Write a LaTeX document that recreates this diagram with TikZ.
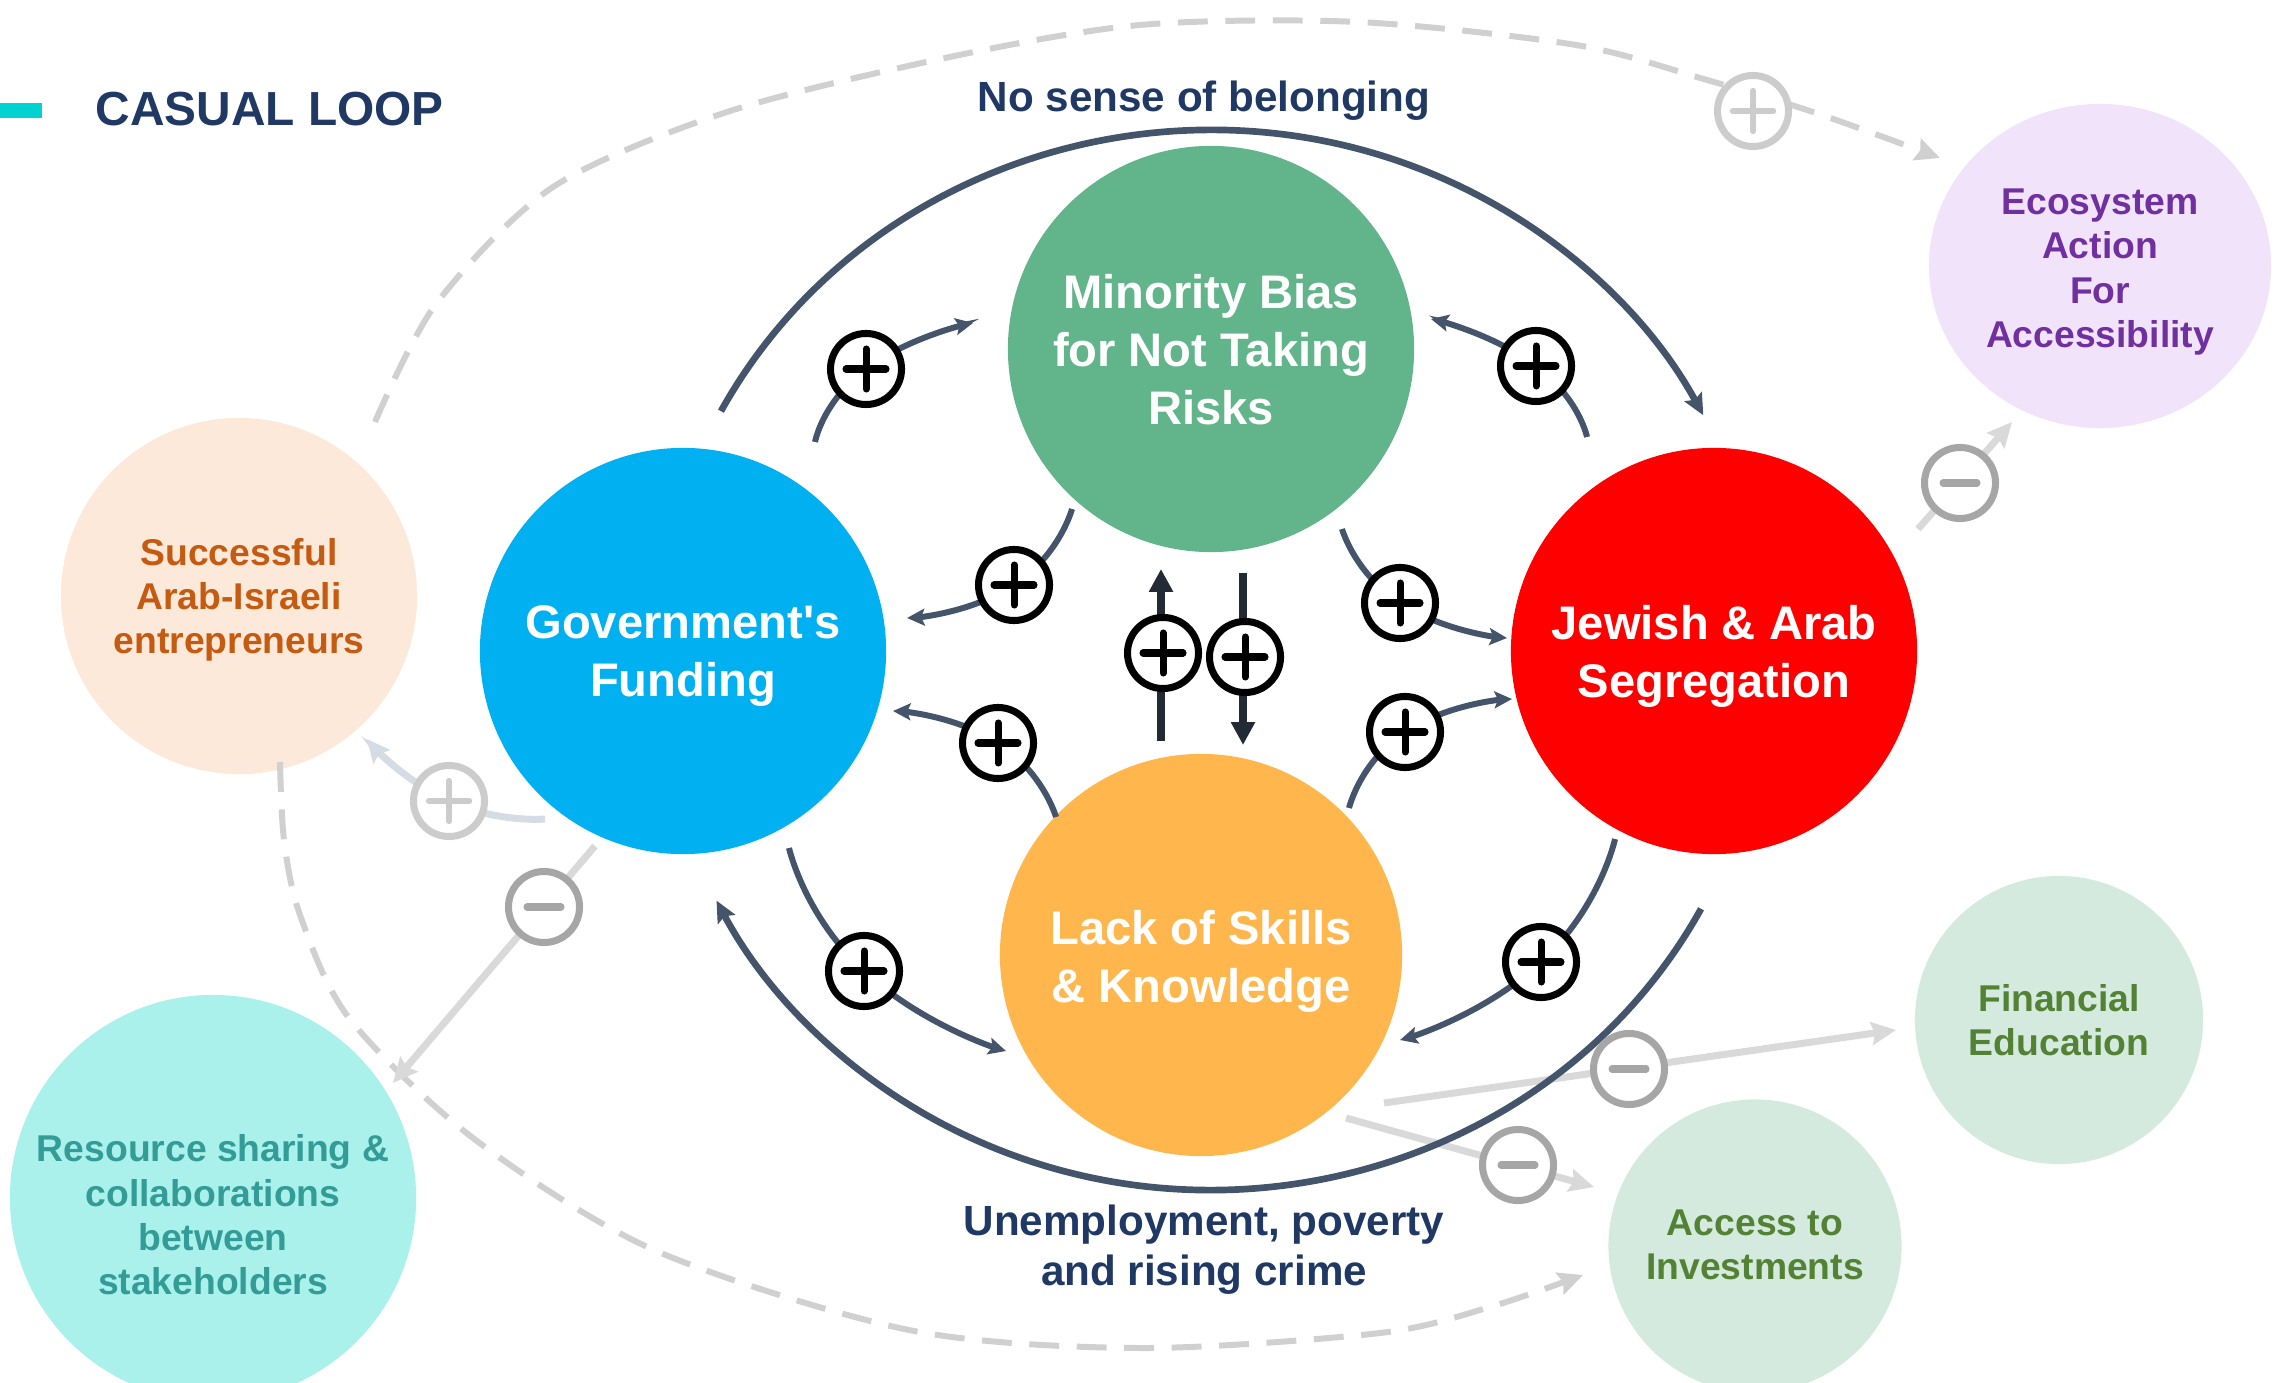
\documentclass[tikz,border=0pt]{standalone}
\usepackage{fontspec}
\setmainfont{Liberation Sans}
\usetikzlibrary{arrows.meta,shapes.geometric}
\definecolor{cgreen}{HTML}{62B48A}
\definecolor{cblue}{HTML}{00B0F0}
\definecolor{cred}{HTML}{FF0000}
\definecolor{corange}{HTML}{FFB74D}
\definecolor{cpeach}{HTML}{FCE9DA}
\definecolor{ccyan}{HTML}{AAF0EB}
\definecolor{clav}{HTML}{F1E3FA}
\definecolor{cmint}{HTML}{D4EADE}
\definecolor{tbrown}{HTML}{C55A11}
\definecolor{tteal}{HTML}{339C97}
\definecolor{tpurple}{HTML}{7030A0}
\definecolor{tgreen}{HTML}{548235}
\definecolor{navy}{HTML}{1F3864}
\definecolor{slate}{HTML}{44546A}
\definecolor{vdark}{HTML}{222A35}
\definecolor{lgray}{HTML}{D9D9D9}
\definecolor{bgray}{HTML}{D6DCE4}
\definecolor{dashgray}{HTML}{D0D0D0}
\definecolor{mgray}{HTML}{A6A6A6}
\definecolor{pgray}{HTML}{CCCCCC}
\definecolor{turq}{HTML}{00D2D2}
\begin{document}
\begin{tikzpicture}[x=0.01cm,y=-0.01cm,
  mainc/.style={circle, inner sep=0pt, minimum size=4.06cm},
  ctext/.style={inner sep=0pt, text=white, align=center, font=\bfseries\fontsize{13.4}{16.5}\selectfont},
  outc/.style={circle, inner sep=0pt},
  otext/.style={inner sep=0pt, align=center, font=\bfseries\fontsize{10.6}{12.6}\selectfont},
  lbl/.style={text=navy, align=center, inner sep=0pt, font=\bfseries\fontsize{12}{14.2}\selectfont},
  sgn/.style={circle, fill=white, inner sep=0pt, minimum size=0.71cm, line width=2pt},
  plusb/.style={sgn, draw=black, path picture={\draw[black,line width=2pt,line cap=round]
    ([xshift=-0.2cm]path picture bounding box.center) -- ([xshift=0.2cm]path picture bounding box.center)
    ([yshift=-0.2cm]path picture bounding box.center) -- ([yshift=0.2cm]path picture bounding box.center);}},
  plusg/.style={sgn, draw=pgray, path picture={\draw[pgray,line width=1.8pt,line cap=round]
    ([xshift=-0.2cm]path picture bounding box.center) -- ([xshift=0.2cm]path picture bounding box.center)
    ([yshift=-0.2cm]path picture bounding box.center) -- ([yshift=0.2cm]path picture bounding box.center);}},
  minusg/.style={sgn, draw=mgray, path picture={\draw[mgray,line width=2pt,line cap=round]
    ([xshift=-0.17cm]path picture bounding box.center) -- ([xshift=0.17cm]path picture bounding box.center);}},
  loopar/.style={draw=slate, line width=1.9pt, -{Stealth[length=6pt,width=5.5pt,inset=1pt]}},
  link/.style={draw=slate, line width=1.7pt, -{Stealth[length=5pt,width=4.8pt,inset=1pt]}},
  vlink/.style={draw=vdark, line width=2.2pt, -{Triangle[length=6.5pt,width=6.5pt]}},
  glink/.style={draw=lgray, line width=2pt, -{Stealth[length=7pt,width=6.5pt,inset=1pt]}},
  gcurve/.style={draw=bgray, line width=2pt, -{Stealth[length=6.5pt,width=6pt,inset=1pt]}},
  gdash/.style={draw=dashgray, line width=1.7pt, dash pattern=on 8.5pt off 5pt, -{Stealth[length=7pt,width=6.5pt,inset=1pt]}}
]
\useasboundingbox (0,0) rectangle (2280,1383);

% title
\fill[turq] (0,103) rectangle (42,118);
\node[anchor=west, text=navy, inner sep=0pt, font=\bfseries\fontsize{13.6}{16}\selectfont] (title) at (95,109) {CASUAL LOOP};

% circles
\node[mainc, fill=cgreen] (mb) at (1211,349) {};
\node[mainc, fill=cblue] (gov) at (683,651) {};
\node[mainc, fill=cred] (seg) at (1714,651) {};
\node[mainc, fill=corange, minimum size=4.02cm] (lack) at (1201,955) {};
\node[outc, fill=cpeach, minimum size=3.56cm] (succ) at (239,596) {};
\node[outc, fill=ccyan, minimum size=4.06cm] (res) at (213,1198) {};
\node[ellipse, inner sep=0pt, minimum width=3.42cm, minimum height=3.24cm, fill=clav] (eco) at (2100,266) {};
\node[outc, fill=cmint, minimum size=2.88cm] (fin) at (2059,1020) {};
\node[outc, fill=cmint, minimum size=2.93cm] (acc) at (1755,1246) {};

% circle texts
\node[ctext] (mbt) at (1211,350) {Minority Bias\\for Not Taking\\Risks};
\node[ctext] (govt) at (683,656) {Government\textquotesingle s\\Funding};
\node[ctext] (segt) at (1714,656) {Jewish \& Arab\\Segregation};
\node[ctext] (lackt) at (1201,961) {Lack of Skills\\\& Knowledge};
\node[otext, text=tbrown] (succt) at (239,600) {Successful\\Arab-Israeli\\entrepreneurs};
\node[otext, text=tteal] (rest) at (213,1215) {Resource sharing \&\\collaborations\\between\\stakeholders};
\node[otext, text=tpurple] (ecot) at (2100,272) {Ecosystem\\Action\\For\\Accessibility};
\node[otext, text=tgreen] (fint) at (2059,1020) {Financial\\Education};
\node[otext, text=tgreen] (acct) at (1755,1245) {Access to\\Investments};

% labels
\node[lbl] (nsb) at (1204,101) {No sense of belonging};
\node[lbl] (unemp) at (1204,1250) {Unemployment, poverty\\and rising crime};

% coordinates
\coordinate (ctr) at (1211,660);
\coordinate (d1s) at (375,422);  \coordinate (d1e) at (1940,158); \coordinate (dp) at (1753,111);
\coordinate (d2s) at (280,762);  \coordinate (d2e) at (1583,1275);
\coordinate (g1s) at (545,819);  \coordinate (g1p) at (449,801); \coordinate (g1e) at (367,739);
\coordinate (g2s) at (595,846);  \coordinate (g2e) at (393,1083); \coordinate (g2p) at (544,907);
\coordinate (g3s) at (1918,529); \coordinate (g3e) at (2012,422); \coordinate (g3p) at (1960,483);
\coordinate (g4s) at (1384,1103);\coordinate (g4e) at (1896,1030);\coordinate (g4p) at (1629,1069);
\coordinate (g5s) at (1346,1118);\coordinate (g5e) at (1594,1187);\coordinate (g5p) at (1518,1165);
\coordinate (a1s) at (815,442);  \coordinate (p1) at (866,369);  \coordinate (a1e) at (973,323);
\coordinate (a2s) at (1072,509); \coordinate (p2) at (1014,585); \coordinate (a2e) at (907,618);
\coordinate (a3s) at (1587,437); \coordinate (p3) at (1536,366); \coordinate (a3e) at (1431,319);
\coordinate (a4s) at (1342,529); \coordinate (p4) at (1400,603); \coordinate (a4e) at (1507,638);
\coordinate (a5s) at (1056,817); \coordinate (p5) at (998,743);  \coordinate (a5e) at (893,711);
\coordinate (a6s) at (1349,808); \coordinate (p6) at (1405,732); \coordinate (a6e) at (1512,699);
\coordinate (a7s) at (789,848);  \coordinate (p7) at (864,971);  \coordinate (a7e) at (1006,1051);
\coordinate (a8s) at (1615,839); \coordinate (p8) at (1541,962); \coordinate (a8e) at (1400,1040);
\coordinate (v1s) at (1161,741); \coordinate (v1e) at (1161,569); \coordinate (pv1) at (1163,653);
\coordinate (v2s) at (1243,573); \coordinate (v2e) at (1243,745); \coordinate (pv2) at (1245,657);

% dashed outer loops
\draw[gdash] plot[smooth] coordinates {(d1s) (436,304) (553,187) (727,112) (945,58) (1140,25) (1358,22) (1576,45) (1707,80) (1816,113) (d1e)};
\draw[gdash] plot[smooth] coordinates {(d2s) (284,840) (300,915) (349,1018) (473,1138) (654,1250) (909,1330) (1140,1348) (1380,1333) (1490,1307) (d2e)};

% gray links
\draw[gcurve] plot[smooth, tension=1] coordinates {(g1s) (g1p) (g1e)};
\draw[glink] (g2s) -- (g2e);
\draw[glink] (g3s) -- (g3e);
\draw[glink] (g4s) -- (g4e);
\draw[glink] (g5s) -- (g5e);

% big loop arcs
\draw[loopar] ([shift={(-152:555 and 530)}]ctr) arc[start angle=-152, end angle=-27.5, x radius=555, y radius=530];
\draw[loopar] ([shift={(28:555 and 530)}]ctr) arc[start angle=28, end angle=153, x radius=555, y radius=530];

% small links
\draw[link] plot[smooth, tension=1] coordinates {(a1s) (p1) (a1e)};
\draw[link] plot[smooth, tension=1] coordinates {(a2s) (p2) (a2e)};
\draw[link] plot[smooth, tension=1] coordinates {(a3s) (p3) (a3e)};
\draw[link] plot[smooth, tension=1] coordinates {(a4s) (p4) (a4e)};
\draw[link] plot[smooth, tension=1] coordinates {(a5s) (p5) (a5e)};
\draw[link] plot[smooth, tension=1] coordinates {(a6s) (p6) (a6e)};
\draw[link] plot[smooth, tension=1] coordinates {(a7s) (p7) (a7e)};
\draw[link] plot[smooth, tension=1] coordinates {(a8s) (p8) (a8e)};
\draw[vlink] (v1s) -- (v1e);
\draw[vlink] (v2s) -- (v2e);

% signs
\node[plusb] (s1) at (p1) {};
\node[plusb] (s2) at (p2) {};
\node[plusb] (s3) at (p3) {};
\node[plusb] (s4) at (p4) {};
\node[plusb] (s5) at (p5) {};
\node[plusb] (s6) at (p6) {};
\node[plusb] (s7) at (p7) {};
\node[plusb] (s8) at (p8) {};
\node[plusb] (sv1) at (pv1) {};
\node[plusb] (sv2) at (pv2) {};
\node[plusg] (sg0) at (dp) {};
\node[plusg] (sg1) at (g1p) {};
\node[minusg] (sm2) at (g2p) {};
\node[minusg] (sm3) at (g3p) {};
\node[minusg] (sm4) at (g4p) {};
\node[minusg] (sm5) at (g5p) {};
\end{tikzpicture}
\end{document}
